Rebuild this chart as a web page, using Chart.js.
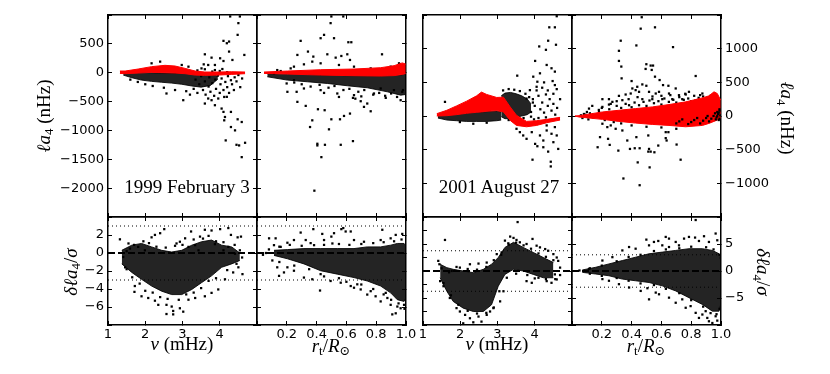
<!DOCTYPE html>
<html>
<head>
<meta charset="utf-8">
<script src="https://cdn.jsdelivr.net/npm/chart.js@4.4.1/dist/chart.umd.min.js"></script>
<style>
body { margin: 0; background: #fff; }
#wrap { position: relative; width: 830px; height: 374px; overflow: hidden; background: #fff; }
#wrap canvas { position: absolute; left: 0; top: 0; }
.t { position: absolute; font-family: "Liberation Serif", "DejaVu Serif", serif; font-size: 19px; color: #000; white-space: nowrap; line-height: 1; }
.t sub { font-size: 68%; vertical-align: -0.3em; line-height: 0; }
</style>
</head>
<body>
<div id="wrap">
  <div class="t" style="left:43px;top:116px;transform:translate(-50%,-50%) rotate(-90deg)"><i>ℓa</i><sub>4</sub> (nHz)</div>
  <div class="t" style="left:70px;top:272px;transform:translate(-50%,-50%) rotate(-90deg)"><i>δℓa</i><sub>4</sub>/<i>σ</i></div>
  <div class="t" style="left:787px;top:118px;transform:translate(-50%,-50%) rotate(90deg)"><i>ℓa</i><sub>4</sub> (nHz)</div>
  <div class="t" style="left:763px;top:272px;transform:translate(-50%,-50%) rotate(90deg)"><i>δℓa</i><sub>4</sub>/<i>σ</i></div>
  <div class="t" style="left:182px;top:343px;transform:translate(-50%,-50%)"><i>ν</i> (mHz)</div>
  <div class="t" style="left:497px;top:343px;transform:translate(-50%,-50%)"><i>ν</i> (mHz)</div>
  <div class="t" style="left:331px;top:345px;transform:translate(-50%,-50%)"><i>r</i><sub>t</sub>/<i>R</i><sub>⊙</sub></div>
  <div class="t" style="left:646px;top:345px;transform:translate(-50%,-50%)"><i>r</i><sub>t</sub>/<i>R</i><sub>⊙</sub></div>
</div>
<script>
const W = 830, H = 374;

// tick values and labels
const nuTicks = [1, 2, 3, 4, 5];
const nuTickLabels = ['1', '2', '3', '4', ''];
const rTicks = [0, 0.2, 0.4, 0.6, 0.8, 1.0];
const rTickLabels = ['', '0.2', '0.4', '0.6', '0.8', '1.0'];
const febTopTicks = [-2500, -2000, -1500, -1000, -500, 0, 500, 1000];
const febTopLabels = ['', '\u22122000', '\u22121500', '\u22121000', '\u2212500', '0', '500', ''];
const augTopTicks = [-1500, -1000, -500, 0, 500, 1000, 1500];
const augTopLabels = ['', '\u22121000', '\u2212500', '0', '500', '1000', ''];
const febResTicks = [-8, -6, -4, -2, 0, 2, 4];
const febResLabels = ['', '\u22126', '\u22124', '\u22122', '0', '2', ''];
const augNuResTicks = [-8, -6, -4, -2, 0, 2, 4, 6, 8];
const augRResTicks = [-10, -5, 0, 5, 10];
const augRResLabels = ['', '\u22125', '0', '5', ''];
const sigmaLevels = [3, -3];
const dateLabels = ['1999 February 3', '2001 August 27'];

// 1999 Feb 3, la4 vs nu
const febNuModelX  = [1.32, 1.46, 1.81, 2.17, 2.53, 2.80, 3.07, 3.34, 3.60, 3.96, 4.32, 4.68];
const febNuModelHi = [29, 29, 64, 105, 128, 116, 75, 29, 12, 12, 17, 12];
const febNuModelLo = [-12, -17, -6, 6, 0, -6, -17, -41, -46, -41, -29, -17];
const febNuCoreX  = [1.41, 1.64, 1.90, 2.17, 2.44, 2.71, 2.98, 3.25, 3.50, 3.75, 3.95];
const febNuCoreHi = [-6, 6, 6, 0, -6, -6, -6, 0, 0, -20, -60];
const febNuCoreLo = [-41, -87, -128, -150, -165, -180, -200, -230, -250, -220, -110];
const febNuPts = [[4.28,975],[4.54,975],[4.50,859],[4.48,656],[4.10,552],[4.25,540],[4.19,511],[4.25,366],[4.66,308],[3.60,319],[3.78,261],[4.01,250],[4.10,203],[4.34,221],[3.57,145],[3.69,134],[3.87,134],[2.17,163],[2.40,192],[2.98,134],[3.16,105],[3.51,75],[3.87,46],[4.07,64],
  [3.96,-447],[4.19,-418],[3.78,-476],[3.87,-563],[4.05,-621],[4.10,-679],[4.14,-767],[4.12,-825],[4.30,-679],[4.48,-807],[4.59,-854],[4.30,-941],[4.41,-999],[4.16,-1173],[4.45,-1249],[4.52,-1260],[4.68,-1214],[4.59,-1463],[3.02,-476],[2.57,-360],[3.60,-534],[3.69,-447],
  [3.30,-280],[3.35,-120],[3.40,-350],[3.45,-200],[3.50,-60],[3.55,-300],[3.60,-150],[3.62,-380],[3.70,-240],[3.72,-80],[3.75,-330],[3.80,-180],[3.85,-400],[3.88,-120],[3.90,-280],[3.95,-50],[4.00,-350],[4.02,-200],[4.05,-100],[4.10,-300],[4.12,-420],[4.15,-160],[4.20,-250],[4.22,-60],[4.25,-350],[4.30,-130],[4.33,-200],[4.38,-300],[4.40,-80],[4.45,-150],[4.50,-40],[4.55,-250],[4.60,-100],
  [3.40,40],[3.60,60],[3.80,20],[4.00,30],[4.20,10],[2.20,-230],[2.50,-260],[2.80,-300],[3.10,-320],[2.00,-200],[1.80,-160],[2.60,40],[2.90,60],[3.20,-380],[1.60,-120],[2.30,50]];

// 1999 Feb 3, la4 vs r_t
const febRModelX  = [0.047, 0.204, 0.427, 0.651, 0.830, 0.920, 0.975, 0.998];
const febRModelHi = [12, 29, 52, 64, 87, 122, 170, 150];
const febRModelLo = [-12, -23, -41, -52, -58, -50, -30, -15];
const febRCoreX  = [0.069, 0.204, 0.338, 0.472, 0.606, 0.740, 0.875, 0.964, 0.998];
const febRCoreHi = [-17, -29, -29, -41, -52, -52, -52, -41, -17];
const febRCoreLo = [-70, -128, -157, -186, -226, -261, -331, -389, -377];
const febRPts = [[0.499,975],[0.579,975],[0.494,859],[0.293,552],[0.427,598],[0.450,656],[0.517,598],[0.613,528],[0.633,528],[0.342,366],[0.271,308],[0.378,279],[0.472,319],[0.528,261],[0.566,290],[0.606,319],[0.624,221],[0.839,319],[0.371,192],[0.427,163],[0.315,145],[0.248,105],[0.550,134],[0.651,105],[0.763,75],[0.897,105],[0.953,163],
  [0.199,-186],[0.204,-331],[0.266,-331],[0.271,-505],[0.327,-575],[0.371,-825],[0.356,-941],[0.409,-633],[0.454,-650],[0.405,-1231],[0.405,-1260],[0.456,-1249],[0.562,-1249],[0.644,-1185],[0.432,-1463],[0.385,-2044],[0.483,-981],[0.499,-807],[0.557,-807],[0.584,-749],[0.624,-708],[0.644,-436],[0.696,-494],[0.740,-534],[0.763,-668],[0.718,-592],[0.785,-360],[0.864,-436],[0.964,-476],[0.975,-331],
  [0.248,-128],[0.315,-273],[0.427,-302],[0.539,-360],[0.651,-389],[0.830,-273],[0.919,-302],[0.114,-12],[0.136,46],[0.159,29],[0.226,75],
  [0.30,-200],[0.36,-240],[0.42,-210],[0.48,-260],[0.52,-230],[0.58,-300],[0.62,-280],[0.68,-330],[0.72,-300],[0.78,-380],[0.82,-350],[0.86,-400],[0.90,-360],[0.94,-420],[0.98,-300],[0.25,-170],[0.55,-420],[0.66,-450],[0.70,-410],[0.45,-350]];

// 2001 Aug 27, la4 vs nu
const augNuModelX  = [1.37, 1.64, 1.90, 2.17, 2.44, 2.57, 2.71, 2.98, 3.16, 3.34, 3.51, 3.78, 4.05, 4.32, 4.68];
const augNuModelHi = [35, 85, 150, 220, 300, 355, 320, 275, 280, 135, 10, -80, -70, -50, -20];
const augNuModelLo = [0, 5, 20, 40, 55, 60, 70, 80, 60, -65, -140, -160, -140, -100, -60];
const augNuCoreX  = [1.40, 1.64, 1.90, 2.17, 2.44, 2.71, 2.98, 3.10];
const augNuCoreHi = [10, 10, 25, 45, 55, 65, 75, 60];
const augNuCoreLo = [-30, -60, -70, -80, -80, -80, -70, -60];
const augNuBlobX  = [3.10, 3.20, 3.35, 3.50, 3.65, 3.80, 3.90];
const augNuBlobHi = [300, 340, 350, 330, 300, 250, 180];
const augNuBlobLo = [-10, -40, -40, -20, 0, 20, 60];
const augNuPts = [[4.59,1482],[4.39,1317],[4.54,1317],[4.36,1118],[4.12,1033],[4.57,1058],[4.30,983],[4.01,818],[4.32,758],[4.45,709],[4.54,659],[3.53,599],[3.96,584],[4.14,634],[4.07,509],[4.25,499],[4.48,519],[4.54,459],[4.59,399],[4.68,250],[3.87,384],[4.05,434],[3.78,259],[1.59,210],
  [3.60,-240],[3.69,-289],[3.78,-339],[3.92,-240],[4.01,-414],[4.14,-289],[4.23,-364],[4.32,-215],[4.45,-264],[4.50,-389],[4.59,-289],[4.63,-489],[3.94,-649],[4.07,-449],[4.23,-464],[4.36,-529],[4.43,-679],[4.43,-749],[4.05,-90],[4.32,-140],[4.54,-165],[3.51,-190],[1.99,-90],[2.35,-115],[2.71,-100],
  [3.95,250],[4.00,150],[4.10,300],[4.15,100],[4.20,200],[4.25,50],[4.30,320],[4.35,150],[4.40,250],[4.45,80],[4.50,180],[4.55,20],[4.60,120],[4.10,-30],[4.30,-20],[4.45,-60],[3.90,60],[4.05,380],[4.20,420],[4.35,380],[4.50,330],[3.98,-50],
  [3.15,380],[3.30,400],[3.45,390],[3.60,370],[3.75,330],[3.85,280],[3.95,200],[3.30,-60],[3.50,-50],[3.70,-30],[3.90,-10],[3.05,200],[3.00,120]];

// 2001 Aug 27, la4 vs r_t
const augRModelX  = [0.020, 0.047, 0.204, 0.315, 0.427, 0.539, 0.651, 0.763, 0.875, 0.919, 0.953, 0.975, 0.998];
const augRModelHi = [0, 5, 60, 85, 110, 135, 170, 210, 269, 299, 359, 334, 235];
const augRModelLo = [0, -15, -50, -80, -105, -125, -140, -160, -140, -110, -80, -60, -30];
const augRPts = [[0.468,1467],[0.461,1297],[0.557,1317],[0.327,1118],[0.315,968],[0.432,1048],[0.678,1023],[0.315,818],[0.331,734],[0.499,769],[0.528,749],[0.544,749],[0.494,699],[0.535,684],[0.557,584],[0.333,559],[0.400,519],[0.438,434],[0.472,469],[0.499,449],[0.588,534],[0.611,459],[0.647,449],[0.830,594],[0.696,409],[0.651,334],[0.584,359],[0.517,359],[0.450,359],[0.394,334],[0.360,319],[0.315,299],[0.248,250],[0.204,250],[0.405,409],[0.427,384],[0.562,334],[0.718,309],[0.763,319],[0.785,359],[0.875,334],[0.606,250],[0.673,250],[0.740,250],[0.271,210],[0.338,235],[0.472,250],[0.539,250],[0.204,135],[0.114,110],[0.136,150],[0.181,60],[0.248,170],[0.383,160],[0.830,235],[0.919,259],
  [0.204,-115],[0.237,-165],[0.260,-140],[0.293,-190],[0.338,-215],[0.188,-314],[0.242,-339],[0.172,-464],[0.253,-429],[0.311,-514],[0.371,-364],[0.389,-489],[0.421,-479],[0.454,-479],[0.432,-314],[0.512,-289],[0.517,-489],[0.512,-529],[0.528,-529],[0.553,-539],[0.579,-439],[0.629,-240],[0.629,-329],[0.635,-364],[0.647,-240],[0.702,-424],[0.729,-649],[0.441,-689],[0.521,-763],[0.345,-928],[0.454,-1028],
  [0.20,120],[0.25,100],[0.30,150],[0.33,120],[0.36,180],[0.40,130],[0.42,200],[0.45,160],[0.48,210],[0.50,150],[0.52,230],[0.55,190],[0.58,220],[0.60,170],[0.62,260],[0.65,210],[0.68,240],[0.70,200],[0.72,280],[0.75,240],[0.78,260],[0.80,220],[0.82,300],[0.85,270],[0.88,290],[0.90,250],[0.93,300],[0.96,280],[0.38,250],[0.44,280],[0.54,290],[0.60,300],[0.66,310],[0.76,330],[0.86,310],[0.30,220],[0.26,180],[0.18,90],[0.10,60],[0.08,30],
  [0.07,-30],[0.09,20],[0.11,-50],[0.12,40],[0.14,-20],[0.06,10],[0.10,-10],[0.22,-60],[0.28,-90],[0.33,-110],[0.40,-140],[0.50,-160],[0.60,-170],[0.70,-190],[0.30,-60]];
const augRStreakPts = [[0.70,-110],[0.72,-80],[0.74,-50],[0.78,-120],[0.80,-90],[0.82,-60],[0.84,-30],[0.86,-110],[0.88,-70],[0.90,-30],[0.91,0],[0.92,-80],[0.935,-40],[0.95,0],[0.96,40],[0.965,-50],[0.975,0],[0.985,50],[0.99,100],[0.97,-20],[0.98,30],[0.99,-40],[0.995,10],[0.985,-60],[0.975,60],[0.99,80]];

// residuals, 1999 Feb 3
const febNuResCoreX  = [1.37, 1.64, 1.90, 2.17, 2.44, 2.71, 2.98, 3.25, 3.51, 3.78, 4.05, 4.32, 4.54];
const febNuResCoreHi = [0.30, 0.87, 1.06, 0.68, 0.30, 0.11, 0.30, 0.87, 1.25, 1.44, 0.87, 0.68, 0];
const febNuResCoreLo = [-1.21, -2.16, -2.92, -3.67, -4.24, -4.62, -4.62, -4.05, -3.30, -2.54, -1.59, -1.21, -0.83];
const febNuResPts = [[1.32,1.52],[1.55,1.06],[2.26,2.01],[2.17,1.74],[2.40,2.20],[2.51,2.65],[2.84,1.06],[2.93,1.25],[3.07,1.63],[3.23,2.39],[3.47,1.82],[3.60,2.58],[3.78,2.50],[4.01,2.65],[4.23,2.77],[4.30,2.01],[4.48,1.74],[4.57,1.82],[4.23,0.68],[4.54,0.30],[4.61,-2.35],[4.36,-2.16],[4.50,-1.59],
  [1.71,-4.32],[1.72,-3.67],[1.90,-4.81],[2.08,-5.0],[2.26,-5.30],[2.35,-5.76],[2.57,-5.76],[2.71,-5.95],[2.75,-6.44],[3.02,-6.52],[2.57,-6.78],[2.75,-6.82],[2.93,-6.14],[3.16,-5.19],[3.34,-5.0],[3.60,-4.81],[3.78,-4.43],[3.96,-4.05],[4.14,-2.92],
  [1.46,-1.59],[1.41,-0.45],[1.59,0.49],[1.81,0.68],[1.99,0.30],[3.16,0.68],[3.34,0.87],[3.87,0.98],[4.10,0.30],[4.41,-0.08],[3.43,0.30],
  [1.50,0.2],[1.70,0.9],[1.95,1.3],[2.10,1.1],[2.30,0.7],[2.55,0.6],[2.80,0.8],[3.00,0.9],[3.30,1.5],[3.55,1.6],[3.70,1.9],[3.90,1.3],[4.10,1.2],[4.40,0.9],[1.50,-1.8],[1.65,-2.7],[1.85,-3.4],[2.00,-4.2],[2.20,-4.4],[2.40,-4.9],[2.60,-5.1],[2.90,-5.2],[3.10,-4.6],[3.30,-4.4],[3.50,-3.9],[3.70,-3.1],[3.90,-2.8],[4.20,-1.9],[4.45,-1.2],[4.60,-0.5]];

const febRResCoreX  = [0.114, 0.204, 0.315, 0.427, 0.539, 0.651, 0.740, 0.830, 0.897, 0.942, 0.987, 0.998];
const febRResCoreHi = [0.30, 0.38, 0.49, 0.49, 0.49, 0.49, 0.68, 0.68, 0.87, 1.06, 1.06, 0.87];
const febRResCoreLo = [-0.27, -0.64, -1.21, -1.97, -2.35, -2.73, -3.11, -3.67, -4.43, -5.19, -5.38, -5.0];
const febRResPts = [[0.081,1.63],[0.125,1.63],[0.293,2.27],[0.378,2.65],[0.438,2.12],[0.499,1.82],[0.517,2.20],[0.566,2.65],[0.579,2.77],[0.595,2.39],[0.629,2.39],[0.841,2.58],[0.931,2.01],[0.975,2.12],[0.204,1.14],[0.248,1.44],[0.327,1.44],[0.383,0.87],[0.450,1.44],[0.506,1.06],[0.651,1.44],[0.718,1.25],[0.830,1.44],[0.897,1.63],[0.114,0.87],[0.159,0.68],
  [0.148,-2.54],[0.181,-2.16],[0.248,-1.97],[0.315,-2.73],[0.371,-2.92],[0.423,-4.17],[0.427,-2.35],[0.494,-3.11],[0.562,-3.30],[0.629,-3.67],[0.651,-3.86],[0.696,-4.05],[0.763,-4.24],[0.830,-5.38],[0.875,-5.0],[0.897,-5.76],[0.908,-6.82],[0.931,-6.70],[0.942,-5.95],[0.964,-6.14],[0.987,-5.76],[0.864,-4.43],[0.796,-4.81],[0.740,-4.62],[0.673,-3.48],[0.103,-0.83],[0.136,-1.59],[0.204,-1.59],
  [0.08,0.4],[0.15,0.7],[0.22,0.9],[0.30,0.8],[0.36,1.1],[0.45,0.9],[0.55,1.0],[0.62,0.9],[0.70,1.0],[0.78,1.1],[0.85,1.2],[0.92,1.3],[0.97,1.5],[0.15,-1.0],[0.25,-1.4],[0.35,-1.8],[0.45,-2.6],[0.55,-2.8],[0.60,-3.2],[0.70,-3.5],[0.78,-4.0],[0.85,-4.6],[0.90,-5.2],[0.95,-5.6],[0.99,-6.2],[0.06,0.0],[0.04,-0.2]];

// residuals, 2001 Aug 27
const augNuResCoreX  = [1.46, 1.64, 1.81, 2.08, 2.35, 2.62, 2.84, 3.02, 3.20, 3.43, 3.69, 3.96, 4.23, 4.50];
const augNuResCoreHi = [1.0, 0.5, 0.25, 0, -0.25, 0.25, 1.0, 2.0, 3.5, 4.25, 3.5, 2.75, 2.0, 1.25];
const augNuResCoreLo = [-1.0, -3.0, -4.5, -5.5, -6.0, -6.0, -5.0, -2.25, -0.5, 0.25, 0, -0.5, -1.0, -1.0];
const augNuResPts = [[1.59,4.6],[1.41,1.5],[1.44,1.0],[3.54,7.25],[3.34,5.1],[3.43,4.9],[3.51,4.6],[3.60,4.25],[3.78,4.0],[3.94,4.75],[4.05,3.75],[4.14,3.5],[4.28,3.25],[4.36,3.0],[4.50,2.5],[4.59,2.0],[4.63,1.5],[4.68,0.5],[4.54,-0.5],[4.59,-1.25],[4.45,-1.75],[4.32,-1.5],[4.10,-1.0],[3.92,-1.75],[3.78,-1.5],
  [1.46,-1.5],[1.55,-2.25],[1.72,-4.0],[1.90,-5.5],[1.99,-6.0],[2.13,-6.5],[2.26,-7.0],[2.35,-7.6],[2.49,-6.75],[2.57,-7.5],[2.71,-6.5],[2.80,-6.0],[2.89,-5.5],[2.08,-7.75],[3.07,-4.5],[3.16,-3.0],
  [1.77,0],[1.99,0.5],[2.26,1.0],[2.49,1.1],[2.71,1.25],[2.98,2.5],[3.11,2.75],[3.20,4.5],[3.29,4.1],[4.68,-0.6],
  [1.50,0.4],[1.70,-0.2],[1.90,0.6],[2.20,0.3],[2.45,0.2],[2.70,0.6],[2.90,1.6],[3.10,2.4],[3.30,3.9],[3.50,4.2],[3.70,3.8],[3.90,3.3],[4.10,2.6],[4.30,2.1],[4.50,1.6],[1.55,-1.8],[1.75,-3.6],[1.95,-5.0],[2.20,-5.9],[2.45,-6.3],[2.70,-6.2],[2.90,-5.4],[3.05,-3.0],[3.25,-1.0],[3.50,-0.4],[3.80,-0.6],[4.00,-1.1],[4.30,-1.2],[4.55,-1.2]];

const augRResCoreX  = [0.069, 0.159, 0.248, 0.338, 0.427, 0.517, 0.606, 0.696, 0.785, 0.875, 0.942, 0.987, 0.998];
const augRResCoreHi = [0.19, 0.69, 1.31, 1.94, 2.56, 3.19, 3.5, 3.81, 4.13, 4.13, 3.81, 3.19, 1.94];
const augRResCoreLo = [-0.25, -0.56, -0.88, -1.5, -1.81, -2.13, -2.75, -3.69, -4.94, -6.19, -7.44, -7.44, -6.19];
const augRResPts = [[0.204,1.94],[0.271,2.56],[0.338,3.81],[0.383,4.44],[0.427,4.13],[0.499,5.81],[0.517,4.75],[0.550,5.38],[0.579,5.56],[0.629,6.31],[0.651,6.0],[0.696,5.38],[0.752,6.0],[0.785,6.31],[0.826,6.19],[0.852,5.56],[0.886,6.44],[0.919,5.38],[0.964,6.94],[0.975,5.69],[0.830,9.44],[0.651,4.44],[0.718,4.75],[0.606,4.75],
  [0.204,-1.5],[0.248,-1.81],[0.315,-2.44],[0.383,-3.06],[0.461,-3.69],[0.517,-5.25],[0.584,-4.31],[0.651,-4.94],[0.696,-5.88],[0.740,-5.25],[0.763,-6.81],[0.796,-6.5],[0.830,-7.75],[0.875,-8.06],[0.897,-7.44],[0.919,-9.31],[0.942,-9.63],[0.964,-8.38],[0.908,-8.69],[0.975,-9.19],[0.852,-8.69],[0.562,-4.0],[0.506,-3.19],[0.114,0.38],[0.092,-0.06],
  [0.05,0.1],[0.12,0.5],[0.20,1.0],[0.30,1.8],[0.38,2.6],[0.46,3.0],[0.55,3.7],[0.63,4.0],[0.72,4.2],[0.80,4.5],[0.90,4.4],[0.95,4.0],[0.99,3.0],[0.12,-0.5],[0.20,-0.9],[0.30,-1.3],[0.38,-1.8],[0.46,-2.3],[0.55,-2.6],[0.63,-3.3],[0.72,-4.1],[0.80,-5.4],[0.88,-6.6],[0.93,-7.8],[0.97,-8.0],[0.99,-7.0]];

const black = '#000';
const red = 'rgb(255,0,0)';
const cloud = 'rgba(0,0,0,0.86)';
const tickFont = { family: 'DejaVu Sans', size: 13 };
const LABEL_W = 60, LABEL_H = 26;

const wrap = document.getElementById('wrap');

function axis(pos, min, max, vals, labels) {
  const vertical = pos === 'left' || pos === 'right';
  const size = labels ? (vertical ? LABEL_W : LABEL_H) : 0;
  return {
    type: 'linear', position: pos, min: min, max: max,
    afterBuildTicks: s => { s.ticks = vals.map(v => ({ value: v })); },
    afterFit: s => {
      if (vertical) s.width = size; else s.height = size;
      s.paddingLeft = s.paddingRight = s.paddingTop = s.paddingBottom = 0;
    },
    grid: { drawOnChartArea: false, drawTicks: true, tickLength: -4, tickWidth: 1, tickColor: black },
    border: { display: true, color: black, width: 1.5 },
    ticks: {
      display: !!labels, autoSkip: false, maxRotation: 0, minRotation: 0,
      padding: vertical ? 8 : 6, color: black, font: tickFont,
      callback: (v, i) => labels ? labels[i] : ''
    }
  };
}

function pts(arr, color, order) {
  return { data: arr.map(p => ({ x: p[0], y: p[1] })), showLine: false, pointStyle: 'rect',
    pointRadius: 1.6, pointBackgroundColor: color, pointBorderWidth: 0, order: order };
}

function band(xs, hi, lo, color, order) {
  return [
    { data: xs.map((x, i) => ({ x: x, y: hi[i] })), showLine: true, borderColor: color, borderWidth: 1,
      pointRadius: 0, fill: false, order: order },
    { data: xs.map((x, i) => ({ x: x, y: lo[i] })), showLine: true, borderColor: color, borderWidth: 1,
      pointRadius: 0, fill: '-1', backgroundColor: color, order: order }
  ];
}

function hline(y, xmin, xmax, dash, width, order) {
  return { data: [{ x: xmin, y: y }, { x: xmax, y: y }], showLine: true, borderColor: black,
    borderWidth: width, borderDash: dash, pointRadius: 0, fill: false, order: order };
}

function refLines(xmin, xmax) {
  const out = [hline(0, xmin, xmax, [7, 3], 2, 3)];
  sigmaLevels.forEach(l => out.push(hline(l, xmin, xmax, [1, 3], 1, 3)));
  return out;
}

function panel(box, x, y, datasets) {
  const c = document.createElement('canvas');
  c.width = W; c.height = H;
  wrap.insertBefore(c, wrap.firstChild);
  const padL = box[0] - (y.side === 'left' ? LABEL_W : 0);
  const padR = W - box[2] - (y.side === 'right' ? LABEL_W : 0);
  const padB = H - box[3] - (x.labels ? LABEL_H : 0);
  new Chart(c, {
    type: 'line',
    data: { datasets: datasets },
    options: {
      responsive: false, animation: false, events: [],
      layout: { padding: { left: padL, top: box[1], right: padR, bottom: padB } },
      plugins: { legend: { display: false }, tooltip: { enabled: false } },
      scales: {
        x: axis('bottom', x.min, x.max, x.ticks, x.labels),
        xTop: axis('top', x.min, x.max, x.ticks, null),
        y: axis('left', y.min, y.max, y.ticks, y.side === 'left' ? y.labels : null),
        yR: axis('right', y.min, y.max, y.ticks, y.side === 'right' ? y.labels : null)
      }
    }
  });
}

const nuX = { min: 1, max: 5, ticks: nuTicks, labels: nuTickLabels };
const rX = { min: 0, max: 1, ticks: rTicks, labels: rTickLabels };
const nuXTop = { min: 1, max: 5, ticks: nuTicks, labels: null };
const rXTop = { min: 0, max: 1, ticks: rTicks, labels: null };

// top row
panel([108, 15, 257, 217], nuXTop, { min: -2500, max: 1000, ticks: febTopTicks, labels: febTopLabels, side: 'left' }, [
  ...band(febNuModelX, febNuModelHi, febNuModelLo, red, 0),
  pts(febNuPts, black, 1),
  ...band(febNuCoreX, febNuCoreHi, febNuCoreLo, cloud, 2)
]);
panel([257, 15, 406, 217], rXTop, { min: -2500, max: 1000, ticks: febTopTicks, labels: null }, [
  ...band(febRModelX, febRModelHi, febRModelLo, red, 0),
  pts(febRPts, black, 1),
  ...band(febRCoreX, febRCoreHi, febRCoreLo, cloud, 2)
]);
panel([423, 15, 572, 217], nuXTop, { min: -1500, max: 1500, ticks: augTopTicks, labels: null }, [
  ...band(augNuModelX, augNuModelHi, augNuModelLo, red, 0),
  pts(augNuPts, black, 1),
  ...band(augNuCoreX, augNuCoreHi, augNuCoreLo, cloud, 2),
  ...band(augNuBlobX, augNuBlobHi, augNuBlobLo, cloud, 2)
]);
panel([572, 15, 721, 217], rXTop, { min: -1500, max: 1500, ticks: augTopTicks, labels: augTopLabels, side: 'right' }, [
  pts(augRStreakPts, black, -1),
  ...band(augRModelX, augRModelHi, augRModelLo, red, 0),
  pts(augRPts, black, 1)
]);

// bottom row (residuals)
panel([108, 217, 257, 325], nuX, { min: -8, max: 4, ticks: febResTicks, labels: febResLabels, side: 'left' }, [
  pts(febNuResPts, black, 1),
  ...band(febNuResCoreX, febNuResCoreHi, febNuResCoreLo, cloud, 2),
  ...refLines(1, 5)
]);
panel([257, 217, 406, 325], rX, { min: -8, max: 4, ticks: febResTicks, labels: null }, [
  pts(febRResPts, black, 1),
  ...band(febRResCoreX, febRResCoreHi, febRResCoreLo, cloud, 2),
  ...refLines(0, 1)
]);
panel([423, 217, 572, 325], nuX, { min: -8, max: 8, ticks: augNuResTicks, labels: null }, [
  pts(augNuResPts, black, 1),
  ...band(augNuResCoreX, augNuResCoreHi, augNuResCoreLo, cloud, 2),
  ...refLines(1, 5)
]);
panel([572, 217, 721, 325], rX, { min: -10, max: 10, ticks: augRResTicks, labels: augRResLabels, side: 'right' }, [
  pts(augRResPts, black, 1),
  ...band(augRResCoreX, augRResCoreHi, augRResCoreLo, cloud, 2),
  ...refLines(0, 1)
]);

// date captions inside the top panels
[[187, 186, dateLabels[0]], [499, 186, dateLabels[1]]].forEach(d => {
  const el = document.createElement('div');
  el.className = 't';
  el.style.left = d[0] + 'px';
  el.style.top = d[1] + 'px';
  el.style.transform = 'translate(-50%,-50%)';
  el.textContent = d[2];
  wrap.appendChild(el);
});
</script>
</body>
</html>
